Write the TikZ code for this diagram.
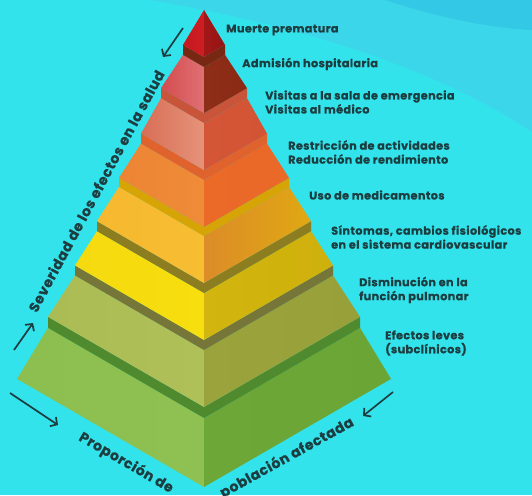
\documentclass[tikz,border=0pt]{standalone}
\usepackage{fontspec}
\setmainfont{Poppins}
\newfontfamily\lblfont{Poppins}[BoldFeatures={FakeBold=0.5, LetterSpace=3}]
\newfontfamily\axfont{Poppins}[BoldFeatures={FakeBold=0.5, LetterSpace=4}]
\usetikzlibrary{arrows.meta}
\definecolor{bgmain}{HTML}{33E3EC}
\definecolor{bgband}{HTML}{3CD6EA}
\definecolor{bgcorner}{HTML}{33C8E6}
\definecolor{ink}{HTML}{1C3E40}
% layer colours: a=left outer, b=left inner, c=right inner, d=right outer, s=strip
\definecolor{Aa}{HTML}{8CBF50}\definecolor{Ab}{HTML}{8EC152}\definecolor{Ac}{HTML}{6CA737}\definecolor{Ad}{HTML}{6AA535}\definecolor{As}{HTML}{4F8B2E}
\definecolor{Ba}{HTML}{ACBC54}\definecolor{Bb}{HTML}{B0C058}\definecolor{Bc}{HTML}{9BA33C}\definecolor{Bd}{HTML}{98A03A}\definecolor{Bs}{HTML}{767638}
\definecolor{Ca}{HTML}{F5DA10}\definecolor{Cb}{HTML}{F7DE0E}\definecolor{Cc}{HTML}{D2B50E}\definecolor{Cd}{HTML}{CFB00D}\definecolor{Cs}{HTML}{8C7E20}
\definecolor{Da}{HTML}{F6B830}\definecolor{Db}{HTML}{F7BE32}\definecolor{Dc}{HTML}{DC8C28}\definecolor{Dd}{HTML}{E0A812}\definecolor{Ds}{HTML}{D6A404}
\definecolor{Ea}{HTML}{EC8434}\definecolor{Eb}{HTML}{EF8C38}\definecolor{Ec}{HTML}{EC6A28}\definecolor{Ed}{HTML}{EA6828}\definecolor{Es}{HTML}{E0622C}
\definecolor{Fa}{HTML}{D86E56}\definecolor{Fb}{HTML}{E6937A}\definecolor{Fc}{HTML}{D45638}\definecolor{Fd}{HTML}{D25434}\definecolor{Fs}{HTML}{C8553A}
\definecolor{Ga}{HTML}{D44C4E}\definecolor{Gb}{HTML}{E07074}\definecolor{Gc}{HTML}{8E2E18}\definecolor{Gd}{HTML}{8A2A14}\definecolor{Gs}{HTML}{782812}
\definecolor{Ha}{HTML}{C4181E}\definecolor{Hb}{HTML}{CE1E24}\definecolor{Hc}{HTML}{A21818}\definecolor{Hd}{HTML}{961414}
\newcommand{\pyrlayer}[5]{%
  \shade[left color=#5a, right color=#5b] ({204-#1},{#2-#1*0.578}) -- (204,#2) -- (204,#4) -- ({204-#3},{#4-#3*0.578}) -- cycle;
  \shade[left color=#5c, right color=#5d] (204,#2) -- ({204+#1},{#2-#1*0.578}) -- ({204+#3},{#4-#3*0.578}) -- (204,#4) -- cycle;
}
\newcommand{\pyrstrip}[4]{%
  \fill[#4] ({204-#1},{#2-#1*0.578}) -- (204,#2) -- ({204+#1},{#2-#1*0.578}) -- ({204+#1},{#3-#1*0.578}) -- (204,#3) -- ({204-#1},{#3-#1*0.578}) -- cycle;
}
\tikzset{
  lbl/.style={anchor=west, text=ink, font=\lblfont\bfseries\fontsize{11.3}{14}\selectfont, align=left, inner sep=0pt},
  axislbl/.style={text=ink, font=\axfont\bfseries\fontsize{14}{16}\selectfont, inner sep=0pt},
  dirarrow/.style={draw=ink, line width=1.7pt, -{Straight Barb[length=5pt,width=11pt]}}
}
\begin{document}
\begin{tikzpicture}[x=1pt,y=-1pt]
\useasboundingbox (0,0) rectangle (532,495);
\clip (0,0) rectangle (532,495);
\fill[bgmain] (0,0) rectangle (532,495);
\fill[bgband] (150,0) .. controls (300,25) and (440,70) .. (532,132) -- (532,0) -- cycle;
\fill[bgcorner] (385,0) .. controls (440,18) and (490,28) .. (532,30) -- (532,0) -- cycle;

% layers bottom to top
\pyrlayer{187}{487}{156}{418}{A}
\pyrstrip{156}{418}{407}{As}
\pyrlayer{156}{407}{129}{350}{B}
\pyrstrip{129}{350}{340}{Bs}
\pyrlayer{129}{340}{107}{293}{C}
\pyrstrip{107}{293}{283}{Cs}
\pyrlayer{107}{283}{85}{236}{D}
\pyrstrip{85}{236}{227}{Ds}
\pyrlayer{85}{227}{63}{180}{E}
\pyrstrip{63}{180}{170}{Es}
\pyrlayer{63}{170}{43}{123}{F}
\pyrstrip{43}{123}{113}{Fs}
\pyrlayer{43}{113}{21}{67}{G}
\pyrstrip{21}{67}{57}{Gs}
% tip
\shade[left color=Ha, right color=Hb] (183,{57-21*0.578}) -- (204,57) -- (204,10) -- cycle;
\shade[left color=Hc, right color=Hd] (204,57) -- (225,{57-21*0.578}) -- (204,10) -- cycle;

% labels
\node[lbl] (l1) at (226,30) {Muerte prematura};
\node[lbl] (l2) at (242,64) {Admisión hospitalaria};
\node[lbl] (l3) at (265,102) {Visitas a la sala de emergencia\\Visitas al médico};
\node[lbl] (l4) at (288,152) {Restricción de actividades\\Reducción de rendimiento};
\node[lbl] (l5) at (309,195) {Uso de medicamentos};
\node[lbl] (l6) at (331,237) {Síntomas, cambios fisiológicos\\en el sistema cardiovascular};
\node[lbl] (l7) at (359,290) {Disminución en la\\función pulmonar};
\node[lbl] (l8) at (385,343) {Efectos leves\\(subclínicos)};

% axis labels
\node[axislbl, rotate=61.8] (sev) at (96,191) {Severidad de los efectos en la salud};
\node[axislbl, rotate=-30] (prop) at (126,463) {Proporción de};
\node[axislbl, rotate=29] (pob) at (287,458) {población afectada};

% arrows
\coordinate (a1s) at (14,350); \coordinate (a1e) at (33,323);
\coordinate (a2s) at (183,28); \coordinate (a2e) at (163,57);
\coordinate (a3s) at (10,393); \coordinate (a3e) at (58,425);
\coordinate (a4s) at (393,392); \coordinate (a4e) at (363,416);
\draw[dirarrow] (a1s) -- (a1e);
\draw[dirarrow] (a2s) -- (a2e);
\draw[dirarrow] (a3s) -- (a3e);
\draw[dirarrow] (a4s) -- (a4e);
\end{tikzpicture}
\end{document}
